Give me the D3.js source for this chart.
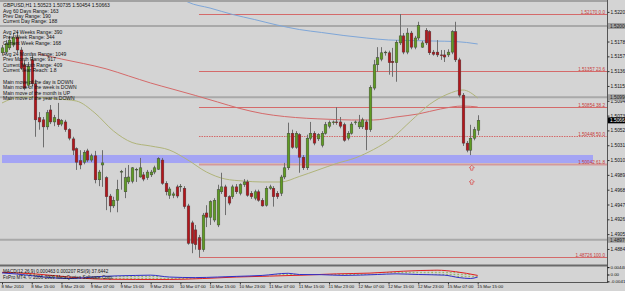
<!DOCTYPE html>
<html><head><meta charset="utf-8">
<script src="https://cdn.jsdelivr.net/npm/d3@7"></script>
<style>
html,body{margin:0;padding:0;background:#d4d4d4;overflow:hidden;}
svg{display:block;}
text{font-family:"Liberation Sans",Arial,sans-serif;}
</style></head><body>
<svg id="c" width="625" height="291"></svg>
<script>
// ---------------- DATA ----------------
const openP = [1.5162,1.5163,1.5169,1.5173,1.5184,1.5166,1.5145,1.5116,1.5152,1.5118,
1.5070,1.5067,1.5057,1.5081,1.5064,1.5068,1.5061,1.5064,1.5053,1.5040,
1.5026,1.5009,1.5007,1.5023,1.5010,1.5016,1.4982,1.5003,1.4985,1.4959,
1.4945,1.4953,1.4993,1.4965,1.4979,1.4980,1.4996,1.4986,1.4989,1.4985,
1.4989,1.4993,1.4997,1.5010,1.4977,1.4960,1.4960,1.4972,1.4972,1.4970,
1.4945,1.4921,1.4911,1.4900,1.4883,1.4935,1.4929,1.4925,1.4918,1.4965,
1.4972,1.4958,1.4958,1.4972,1.4963,1.4975,1.4979,1.4963,1.4956,1.4965,
1.4953,1.4946,1.4970,1.4970,1.4963,1.4963,1.4986,1.4999,1.5048,1.5028,
1.5046,1.5014,1.4999,1.5041,1.5048,1.5040,1.5031,1.5048,1.5058,1.5063,
1.5064,1.5064,1.5060,1.5041,1.5048,1.5063,1.5057,1.5057,1.5064,1.5053,
1.5112,1.5145,1.5153,1.5162,1.5162,1.5150,1.5148,1.5176,1.5186,1.5163,
1.5190,1.5170,1.5183,1.5170,1.5194,1.5192,1.5163,1.5163,1.5159,1.5159,
1.5159,1.5163,1.5192,1.5152,1.5102,1.5034,1.5024,1.5041,1.50523];
const highP = [1.5173,1.5180,1.5186,1.5190,1.5192,1.5170,1.5152,1.5149,1.5160,1.5124,
1.5078,1.5071,1.5081,1.5088,1.5074,1.5091,1.5068,1.5067,1.5055,1.5043,
1.5028,1.5024,1.5024,1.5026,1.5019,1.5023,1.4996,1.5024,1.4987,1.4962,
1.4958,1.4982,1.4996,1.4999,1.5003,1.5000,1.4999,1.5013,1.4993,1.4996,
1.4996,1.5002,1.5014,1.5013,1.4980,1.4972,1.4965,1.4975,1.4976,1.4973,
1.4948,1.4924,1.4918,1.4904,1.4935,1.4946,1.4953,1.4956,1.4975,1.4992,
1.4975,1.4960,1.4975,1.4976,1.4977,1.4983,1.4982,1.4966,1.4968,1.4968,
1.4956,1.4973,1.4975,1.4973,1.4966,1.4989,1.5006,1.5063,1.5053,1.5051,
1.5048,1.5017,1.5046,1.5064,1.5051,1.5048,1.5051,1.5064,1.5066,1.5066,
1.5085,1.5071,1.5063,1.5051,1.5064,1.5066,1.5074,1.5070,1.5067,1.5116,
1.5152,1.5170,1.5170,1.5165,1.5165,1.5169,1.5180,1.5217,1.5190,1.5197,
1.5193,1.5186,1.5206,1.5179,1.5197,1.5194,1.5166,1.5180,1.5166,1.5166,
1.5167,1.5194,1.5206,1.5155,1.5105,1.5037,1.5060,1.5057,1.50735];
const lowP = [1.5158,1.5160,1.5166,1.5170,1.5163,1.5138,1.5109,1.5112,1.5115,1.5043,
1.5053,1.5028,1.5053,1.5061,1.5058,1.5057,1.5058,1.5050,1.5038,1.5017,
1.4996,1.4997,1.5004,1.5007,1.5007,1.4977,1.4973,1.4972,1.4939,1.4936,
1.4942,1.4936,1.4968,1.4956,1.4976,1.4977,1.4979,1.4985,1.4980,1.4982,
1.4986,1.4990,1.4996,1.4975,1.4960,1.4955,1.4956,1.4956,1.4965,1.4941,
1.4890,1.4878,1.4883,1.48726,1.4880,1.4915,1.4918,1.4922,1.4915,1.4962,
1.4932,1.4946,1.4955,1.4962,1.4960,1.4972,1.4958,1.4955,1.4953,1.4951,
1.4944,1.4944,1.4968,1.4944,1.4955,1.4959,1.4983,1.4996,1.5026,1.5026,
1.4992,1.4996,1.4996,1.5038,1.5031,1.5037,1.5028,1.5046,1.5055,1.5060,
1.5060,1.5055,1.5036,1.5038,1.5046,1.5060,1.5054,1.5054,1.5024,1.5050,
1.5109,1.5135,1.5150,1.5158,1.5131,1.5128,1.5121,1.5173,1.5160,1.5160,
1.5167,1.5167,1.5180,1.5169,1.5173,1.5159,1.5158,1.5156,1.5152,1.5149,
1.5156,1.5160,1.5149,1.5099,1.5030,1.5021,1.5017,1.5038,1.50454];
const closeP = [1.5169,1.5175,1.5180,1.5184,1.5166,1.5140,1.5112,1.5143,1.5118,1.5067,
1.5064,1.5057,1.5077,1.5064,1.5070,1.5060,1.5066,1.5053,1.5041,1.5024,
1.5007,1.5003,1.5021,1.5010,1.5016,1.4982,1.4993,1.5006,1.4958,1.4945,
1.4953,1.4968,1.4994,1.4985,1.4986,1.4999,1.4997,1.4999,1.4983,1.4993,
1.4993,1.4999,1.5012,1.4977,1.4965,1.4969,1.4962,1.4959,1.4973,1.4944,
1.4892,1.4892,1.4890,1.4883,1.4932,1.4929,1.4951,1.4953,1.4968,1.4972,
1.4958,1.4949,1.4972,1.4965,1.4975,1.4979,1.4960,1.4958,1.4965,1.4953,
1.4945,1.4970,1.4972,1.4958,1.4958,1.4986,1.4999,1.5048,1.5028,1.5048,
1.5014,1.4999,1.5041,1.5048,1.5034,1.5046,1.5048,1.5060,1.5063,1.5064,
1.5063,1.5058,1.5038,1.5048,1.5061,1.5064,1.5064,1.5067,1.5053,1.5113,
1.5145,1.5155,1.5162,1.5163,1.5148,1.5148,1.5177,1.5186,1.5163,1.5190,
1.5170,1.5183,1.5201,1.5176,1.5176,1.5162,1.5160,1.5159,1.5158,1.5156,
1.5163,1.5192,1.5152,1.5102,1.5034,1.5024,1.5041,1.5053,1.50663];

const timeTickIdx = [0,8,16,24,32,40,48,56,64,72,80,88,96,104,112,120,128];
const timeLabels = ["8 Mar 2010","8 Mar 15:00","8 Mar 23:00","9 Mar 07:00","9 Mar 15:00","9 Mar 23:00",
 "10 Mar 07:00","10 Mar 15:00","10 Mar 23:00","11 Mar 07:00","11 Mar 15:00","11 Mar 23:00",
 "12 Mar 07:00","12 Mar 15:00","12 Mar 23:00","15 Mar 07:00","15 Mar 15:00"];
const priceTicks = [1.52200,1.51990,1.51780,1.51570,1.51360,1.51150,1.50940,1.50730,1.50520,
 1.50310,1.50100,1.49890,1.49680,1.49470,1.49260,1.49050,1.48840];

// moving averages (bar index, price)
const maBlueIdx = [48,50,56,62,68,74,80,86,92,98,104,110,116,122,128];
const maBlueVal = [1.5240,1.52340,1.52254,1.52164,1.52091,1.52014,1.51950,1.51908,1.51865,1.51830,1.51802,1.51794,1.51787,1.51780,1.51745];
const maRedIdx = [10,16,22,28,34,40,46,52,58,64,70,76,82,88,94,100,106,112,118,124,128];
const maRedVal = [1.51603,1.51532,1.51467,1.51393,1.51293,1.51192,1.51104,1.51016,1.50923,1.50831,1.50760,1.50717,1.50692,1.50678,1.50668,1.50668,1.50710,1.50753,1.50824,1.50866,1.50852];
const maOliveIdx = [0,5,10,15,20,25,30,35,40,45,50,55,60,65,70,75,80,85,90,95,100,105,110,115,120,124,128];
const maOliveVal = [1.50909,1.50994,1.50987,1.50965,1.50937,1.50767,1.50512,1.50349,1.50299,1.50243,1.50101,1.49931,1.49832,1.49803,1.49789,1.49789,1.49867,1.49959,1.50051,1.50129,1.50250,1.50413,1.50653,1.50887,1.51036,1.51093,1.50980];

// fibonacci
const fibLevels = [0,23.6,38.2,50,61.8,100];
// horizontal gray levels
const grayLevels = [1.52000,1.50990,1.48970];
// support zone band
const zoneTop = 1.50172, zoneBottom = 1.50058;
// arrow signals
const arrowIdx = [126,126];
const arrowPrice = [1.4999,1.4979];

// indicator window
const indRedIdx = [0,9,18,27,36,45,54,63,72,81,90,99,108,117,122,128];
const indRedVal = [0.00129,0.00034,-0.00152,-0.00281,-0.00298,-0.00298,-0.00242,-0.00152,-0.00096,-0.00039,0.00039,0.00084,0.00197,0.00259,0.00169,-0.00056];
const indBlueIdx = [0,4,9,18,27,36,40,45,52,58,63,70,77,80,86,92,101,106,112,119,123,126,128];
const indBlueVal = [0.00096,0.00028,-0.00096,-0.00242,-0.00113,-0.00056,-0.00039,-0.00152,-0.00186,-0.00152,-0.00113,-0.00056,0.00073,0,-0.00011,-0.00056,0,0.00039,0,-0.00039,-0.00186,-0.00242,-0.00152];
const indTicks = [0.00440,0,-0.00413];

const infoA = ["Avg 60 Days Range: 163","Prev Day Range: 190","Current Day Range: 188"];
const infoB = ["Avg 24 Weeks Range: 390","Prev Week Range: 344","Current Week Range: 168"];
const infoC = ["Avg 24 Months Range: 1049","Prev Month Range: 917","Current Month Range: 409","Current Year Reach: 1.8"];
const infoD = ["Main move of the day is DOWN","Main move of the week is DOWN","Main move of the month is UP","Main move of the year is DOWN"];
const indText = ["MACD(12,26,9) 0.000463 0.000207 RSI(9) 37.6442","FxPro MT4. \u00a9 2006-2009 MetaQuotes Software Corp."];

// ---------------- DRAW ----------------
const W=625,H=291, plotR=607, plotT=2, plotB=264;
const svg=d3.select("#c");
svg.append("rect").attr("width",W).attr("height",H).attr("fill","#d4d4d4");

const n=openP.length;
const x=d3.scaleLinear().domain([0,n-1]).range([2,477.7]);
const fibHigh=d3.max(highP), fibLow=d3.min(lowP);
const y=d3.scaleLinear().domain([fibLow,fibHigh]).range([257,14]);
const yi=d3.scaleLinear().domain([-0.0045,0.0045]).range([282,267]);

svg.append("clipPath").attr("id","pc").append("rect").attr("x",0).attr("y",plotT).attr("width",plotR).attr("height",plotB-plotT);
const g=svg.append("g").attr("clip-path","url(#pc)");

// zone band
g.append("rect").attr("x",2).attr("width",593-2)
 .attr("y",y(zoneTop)).attr("height",y(zoneBottom)-y(zoneTop)).attr("fill","#a4a4f4");

// gray levels
grayLevels.forEach(p=>{
  g.append("line").attr("x1",0).attr("x2",plotR).attr("y1",y(p)).attr("y2",y(p))
   .attr("stroke","#a9a9a9").attr("stroke-width",2);
});

// fib lines
const lowIdx=lowP.indexOf(fibLow);
fibLevels.forEach(l=>{
  const p=fibHigh-(fibHigh-fibLow)*l/100;
  const yy=Math.round(y(p))+0.5;
  const isDot=l===50, isThick=l===61.8;
  g.append("line").attr("x1",x(lowIdx)).attr("x2",plotR).attr("y1",yy).attr("y2",yy)
   .attr("stroke",isThick?"#d49a9a":"#d46a6a").attr("stroke-width",isThick?2:1)
   .attr("stroke-dasharray",isDot?"1.5,1":null);
  g.append("text").attr("x",plotR-2).attr("y",yy-1).attr("text-anchor","end")
   .attr("font-size",4.6).attr("fill","#c83c3c")
   .text(p.toFixed(5)+"  "+(l===0?"0.0":l.toFixed(1)));
});

// MAs
const mkLine=(idx,val,sc)=>d3.line().x((d,i)=>x(d)).y((d,i)=>sc(val[i])).curve(d3.curveMonotoneX)(idx);
g.append("path").attr("d",mkLine(maBlueIdx,maBlueVal,y)).attr("fill","none").attr("stroke","#7ea6d8").attr("stroke-width",1);
g.append("path").attr("d",mkLine(maRedIdx,maRedVal,y)).attr("fill","none").attr("stroke","#d46a6a").attr("stroke-width",1);
g.append("path").attr("d",mkLine(maOliveIdx,maOliveVal,y)).attr("fill","none").attr("stroke","#b0b47a").attr("stroke-width",1);

// candles
const bw=2.7;
const cg=g.append("g");
d3.range(n).forEach(i=>{
  const o=openP[i],c=closeP[i],h=highP[i],l=lowP[i];
  const up=c>=o;
  const cx=Math.round(x(i))+0.5;
  cg.append("line").attr("x1",cx).attr("x2",cx).attr("y1",y(h)).attr("y2",y(l))
    .attr("stroke","#6e6e6e").attr("stroke-width",1);
  const t=y(Math.max(o,c)), b=y(Math.min(o,c));
  cg.append("rect").attr("x",cx-bw/2).attr("width",bw).attr("y",t).attr("height",Math.max(0.8,b-t))
    .attr("fill",up?"#5f9c23":"#b5161b").attr("stroke","#3a3a3a").attr("stroke-width",0.4);
});

// arrows
arrowIdx.forEach((ai,k)=>{
  const ax=x(ai)+1.5, ay=y(arrowPrice[k]);
  g.append("path").attr("d",`M${ax},${ay-2.6} L${ax+2.6},${ay} L${ax+1.1},${ay} L${ax+1.1},${ay+2.4} L${ax-1.1},${ay+2.4} L${ax-1.1},${ay} L${ax-2.6},${ay} Z`)
   .attr("fill","none").attr("stroke","#d85a5a").attr("stroke-width",0.8);
});

// info text
const info=svg.append("g").attr("font-size",5).attr("fill","#111");
const last=n-1;
info.append("text").attr("x",3).attr("y",7).text("GBPUSD,H1  "+[openP[last],highP[last],lowP[last],closeP[last]].map(v=>v.toFixed(5)).join(" "));
infoA.forEach((t,i)=>info.append("text").attr("x",3).attr("y",12.5+i*5.4).text(t));
infoB.forEach((t,i)=>info.append("text").attr("x",3).attr("y",34+i*5.4).text(t));
infoC.forEach((t,i)=>info.append("text").attr("x",3).attr("y",56+i*5.4).text(t));
infoD.forEach((t,i)=>info.append("text").attr("x",3).attr("y",84+i*5.4).text(t));

// frame
svg.append("line").attr("x1",0).attr("x2",plotR).attr("y1",1).attr("y2",1).attr("stroke","#707070");
svg.append("line").attr("x1",plotR+0.5).attr("x2",plotR+0.5).attr("y1",0).attr("y2",283).attr("stroke","#555");
svg.append("rect").attr("x",0).attr("y",264.5).attr("width",plotR).attr("height",2).attr("fill","#6a6a6a");
svg.append("line").attr("x1",0).attr("x2",plotR).attr("y1",282.5).attr("y2",282.5).attr("stroke","#555");

// price axis
const pa=svg.append("g").attr("transform",`translate(${plotR+0.5},0)`)
 .call(d3.axisRight(y).tickValues(priceTicks).tickSize(2).tickPadding(1).tickFormat(d=>d.toFixed(5)));
pa.select(".domain").remove();
pa.selectAll("text").attr("font-size",4.8).attr("fill","#111");
pa.selectAll("line").attr("stroke","#333");

// gray level boxes + current price box
grayLevels.forEach(p=>{
  svg.append("rect").attr("x",plotR+1).attr("y",y(p)-3).attr("width",20).attr("height",6).attr("fill","#a0a0a0");
  svg.append("text").attr("x",plotR+3).attr("y",y(p)+1.8).attr("font-size",4.8).attr("fill","#222").text(p.toFixed(5));
});
svg.append("rect").attr("x",plotR+1).attr("y",y(closeP[last])-3).attr("width",20).attr("height",6).attr("fill","#000");
svg.append("text").attr("x",plotR+3).attr("y",y(closeP[last])+1.8).attr("font-size",4.8).attr("fill","#fff").text(closeP[last].toFixed(5));

// indicator panel
const ig=svg.append("g");
ig.append("clipPath").attr("id","ic").append("rect").attr("x",0).attr("y",267).attr("width",plotR).attr("height",15);
const ic=ig.append("g").attr("clip-path","url(#ic)");
const pat=svg.append("defs").append("pattern").attr("id","hist").attr("patternUnits","userSpaceOnUse")
 .attr("width",x(1)-x(0)).attr("height",2);
pat.append("rect").attr("x",0.5).attr("y",0).attr("width",1).attr("height",1.2).attr("fill","#6aa31c");
const redFn=d3.scaleLinear().domain(indRedIdx).range(indRedVal);
const blueFn=d3.scaleLinear().domain(indBlueIdx).range(indBlueVal);
ic.append("path").attr("d",d3.area().x(d=>x(d)).y0(d=>yi(redFn(d))).y1(d=>yi(blueFn(d)))(d3.range(n)))
 .attr("fill","url(#hist)");
ic.append("path").attr("d",mkLine(indRedIdx,indRedVal,yi)).attr("fill","none").attr("stroke","#e02020").attr("stroke-width",1);
ic.append("path").attr("d",mkLine(indBlueIdx,indBlueVal,yi)).attr("fill","none").attr("stroke","#3030c8").attr("stroke-width",1);
ig.append("g").attr("font-size",4.6).attr("fill","#111").selectAll("text").data(indText).join("text")
 .attr("x",3).attr("y",(d,i)=>273+i*5.6).text(d=>d);
const iax=svg.append("g").attr("transform",`translate(${plotR+0.5},0)`)
 .call(d3.axisRight(yi).tickValues(indTicks).tickSize(2).tickPadding(1).tickFormat(d=>d===0?"0.00":d.toFixed(5)));
iax.select(".domain").remove();
iax.selectAll("text").attr("font-size",4.4).attr("fill","#111");

// time axis
const ta=svg.append("g").attr("transform","translate(0,282.5)")
 .call(d3.axisBottom(x).tickValues(timeTickIdx).tickSize(2).tickPadding(1).tickFormat((d,i)=>timeLabels[i]));
ta.select(".domain").remove();
ta.selectAll("text").attr("font-size",4.4).attr("fill","#111").attr("text-anchor","start").attr("dx",-1).attr("dy","0.6em");
ta.selectAll("line").attr("stroke","#333");
</script>
</body></html>
